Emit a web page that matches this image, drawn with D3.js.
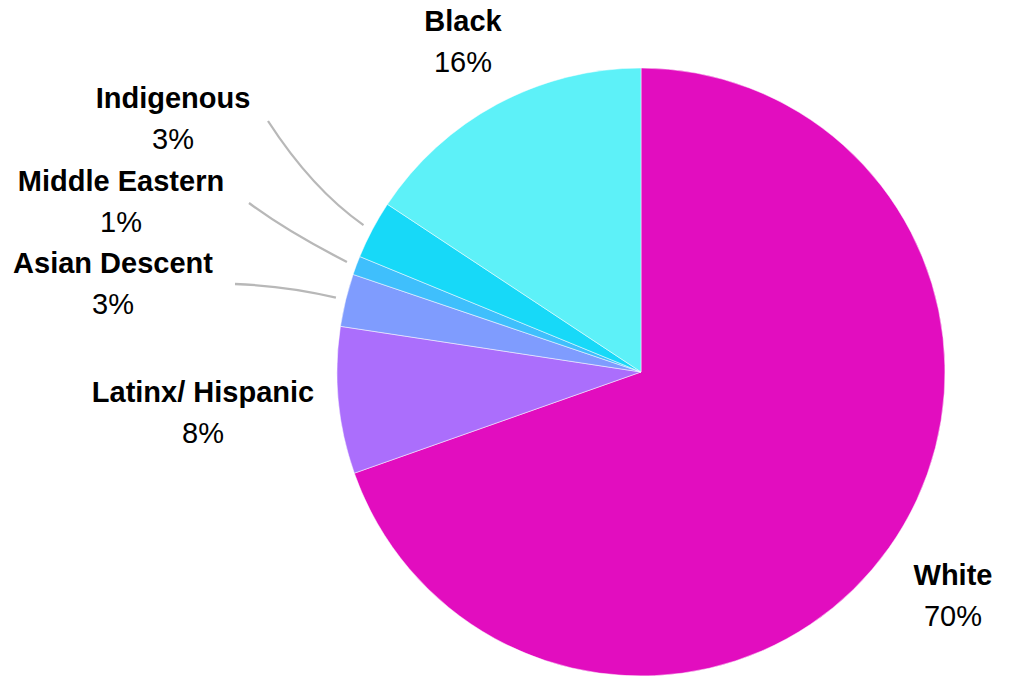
<!DOCTYPE html>
<html>
<head>
<meta charset="utf-8">
<script src="https://cdn.jsdelivr.net/npm/d3@7"></script>
<style>
  html, body { margin: 0; padding: 0; background: #fff; }
  svg { display: block; }
  text { font-family: "Liberation Sans", Arial, sans-serif; fill: #000; }
</style>
</head>
<body>
<svg id="chart" width="1011" height="677"></svg>
<script>
// ---- data ----
const categories = ["White", "Latinx/ Hispanic", "Asian Descent", "Middle Eastern", "Indigenous", "Black"];
const values = [69.6, 7.8, 2.8, 1.0, 3.1, 15.7];
const percentLabels = ["70%", "8%", "3%", "1%", "3%", "16%"];
const colors = ["#E20DBF", "#AB6EFC", "#7F9CFE", "#3FBFFC", "#17D9F8", "#5DF1F8"];

// ---- layout ----
const W = 1011, H = 677;
const cx = 641, cy = 372, R = 304;
// label anchor (center x, name baseline y) per category
const labelPos = [
  [953, 585], [203, 402], [113, 273], [121, 191], [173, 108], [463, 31]
];
// leader lines: [startX, startY, ctrlX, ctrlY] or null
const leaders = [null, null, [235, 284, 288, 286], [249, 203, 288, 232], [268, 121, 312, 189], null];

const svg = d3.select("#chart");
const g = svg.append("g").attr("transform", `translate(${cx},${cy})`);

const pie = d3.pie().sort(null).value(d => d.value).startAngle(0).endAngle(2 * Math.PI);
const data = categories.map((c, i) => ({ name: c, value: values[i], pct: percentLabels[i], color: colors[i], i }));
const arcs = pie(data);
const arc = d3.arc().innerRadius(0).outerRadius(R);

g.selectAll("path.slice").data(arcs).enter().append("path")
  .attr("class", "slice")
  .attr("d", arc)
  .attr("fill", d => d.data.color)
  .attr("stroke", "#fff")
  .attr("stroke-width", 0.5);

// leader lines
arcs.forEach(a => {
  const L = leaders[a.data.i];
  if (!L) return;
  const mid = (a.startAngle + a.endAngle) / 2;
  const ex = cx + (R + 10) * Math.sin(mid);
  const ey = cy - (R + 10) * Math.cos(mid);
  const p = d3.path();
  p.moveTo(L[0], L[1]);
  p.quadraticCurveTo(L[2], L[3], ex, ey);
  svg.append("path")
    .attr("d", p.toString())
    .attr("fill", "none")
    .attr("stroke", "#b8b8b8")
    .attr("stroke-width", 2.3);
});

// labels
data.forEach(d => {
  const [x, y] = labelPos[d.i];
  svg.append("text")
    .attr("x", x).attr("y", y)
    .attr("text-anchor", "middle")
    .attr("font-size", 29)
    .attr("font-weight", "bold")
    .text(d.name);
  svg.append("text")
    .attr("x", x).attr("y", y + 41)
    .attr("text-anchor", "middle")
    .attr("font-size", 29)
    .text(d.pct);
});
</script>
</body>
</html>
